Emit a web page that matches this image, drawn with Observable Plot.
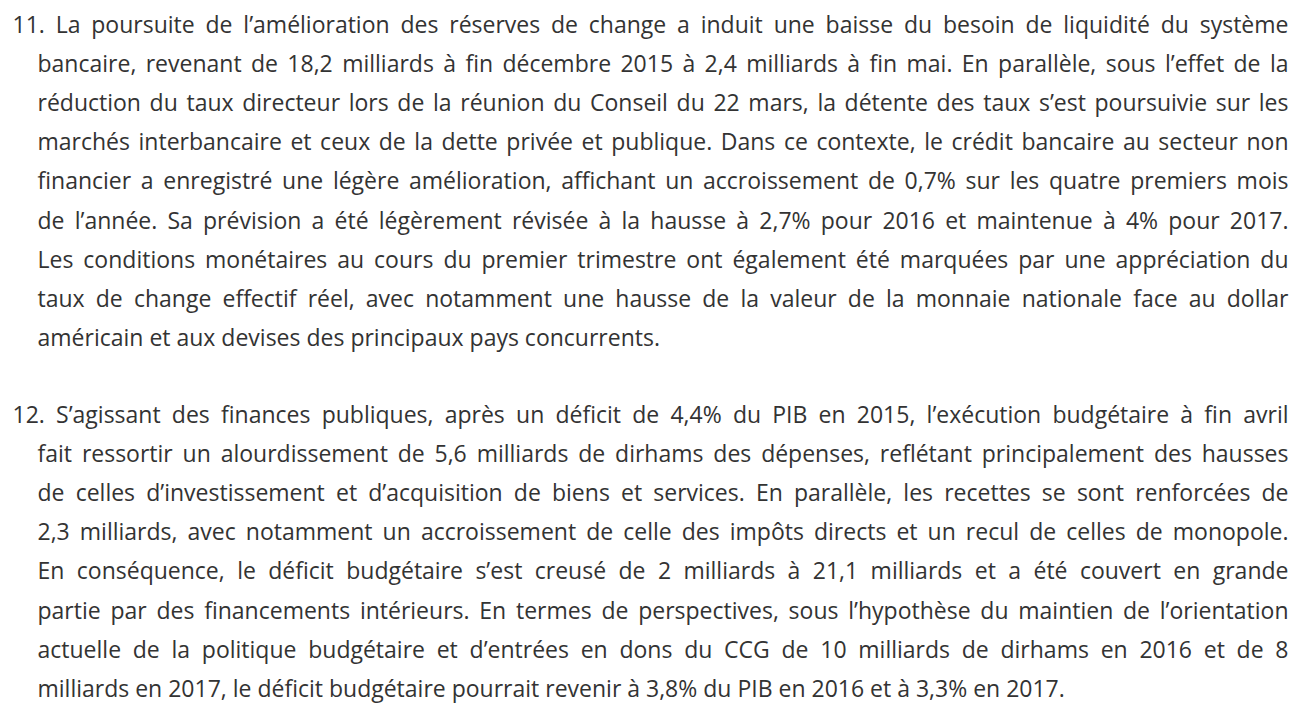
<!DOCTYPE html>
<html>
<head>
<meta charset="utf-8">
<script src="https://cdn.jsdelivr.net/npm/d3@7"></script>
<script src="https://cdn.jsdelivr.net/npm/@observablehq/plot@0.6"></script>
<style>
  html, body { margin: 0; padding: 0; background: #ffffff; }
  #chart svg { display: block; }
</style>
</head>
<body>
<div id="chart"></div>
<script>
// ---- Content (text lines as they are broken in the reference) ----
const paragraph11Lines = [
  "11. La poursuite de l’amélioration des réserves de change a induit une baisse du besoin de liquidité du système",
  "bancaire, revenant de 18,2 milliards à fin décembre 2015 à 2,4 milliards à fin mai. En parallèle, sous l’effet de la",
  "réduction du taux directeur lors de la réunion du Conseil du 22 mars, la détente des taux s’est poursuivie sur les",
  "marchés interbancaire et ceux de la dette privée et publique. Dans ce contexte, le crédit bancaire au secteur non",
  "financier a enregistré une légère amélioration, affichant un accroissement de 0,7% sur les quatre premiers mois",
  "de l’année. Sa prévision a été légèrement révisée à la hausse à 2,7% pour 2016 et maintenue à 4% pour 2017.",
  "Les conditions monétaires au cours du premier trimestre ont également été marquées par une appréciation du",
  "taux de change effectif réel, avec notamment une hausse de la valeur de la monnaie nationale face au dollar",
  "américain et aux devises des principaux pays concurrents."
];
const paragraph12Lines = [
  "12. S’agissant des finances publiques, après un déficit de 4,4% du PIB en 2015, l’exécution budgétaire à fin avril",
  "fait ressortir un alourdissement de 5,6 milliards de dirhams des dépenses, reflétant principalement des hausses",
  "de celles d’investissement et d’acquisition de biens et services. En parallèle, les recettes se sont renforcées de",
  "2,3 milliards, avec notamment un accroissement de celle des impôts directs et un recul de celles de monopole.",
  "En conséquence, le déficit budgétaire s’est creusé de 2 milliards à 21,1 milliards et a été couvert en grande",
  "partie par des financements intérieurs. En termes de perspectives, sous l’hypothèse du maintien de l’orientation",
  "actuelle de la politique budgétaire et d’entrées en dons du CCG de 10 milliards de dirhams en 2016 et de 8",
  "milliards en 2017, le déficit budgétaire pourrait revenir à 3,8% du PIB en 2016 et à 3,3% en 2017."
];
const paragraphs = [paragraph11Lines, paragraph12Lines];

// ---- Layout settings ----
const W = 1296, H = 718;
const fontSize = 23;
const firstBaseline = 32;
const lineStep = 39.2;
const paragraphGapLines = 0.95;   // extra blank space between paragraphs, in lines
const leftFirst = 12, leftIndent = 37, rightEdge = 1288;
const textColor = "#333333";

// ---- Build table ----
const rows = [];
let offset = 0;
paragraphs.forEach((lines, p) => {
  lines.forEach((t, i) => {
    rows.push({text: t, row: offset + i, indent: i === 0 ? 0 : 1, last: i === lines.length - 1});
  });
  offset += lines.length + paragraphGapLines;
});

const mid = firstBaseline - 0.32 * fontSize;
const plot = Plot.plot({
  width: W,
  height: H,
  margin: 0,
  x: {domain: [0, 1], range: [leftFirst, leftIndent], axis: null},
  y: {domain: [0, 1], range: [mid, mid + lineStep], axis: null},
  style: {background: "#ffffff"},
  marks: [
    Plot.text(rows, {
      x: "indent",
      y: "row",
      text: "text",
      textAnchor: "start",
      lineAnchor: "middle",
      fontSize: fontSize,
      fontFamily: "'Open Sans', 'Noto Sans', sans-serif",
      fill: textColor
    })
  ]
});
document.getElementById("chart").appendChild(plot);

const xs = plot.scale("x");
function justify() {
  const texts = plot.querySelectorAll('g[aria-label="text"] text');
  texts.forEach((el, i) => {
    const r = rows[i];
    el.style.wordSpacing = "0px";
    if (!r || r.last) return;
    const len = el.getComputedTextLength();
    const spaces = (r.text.match(/ /g) || []).length;
    const target = rightEdge - xs.apply(r.indent);
    if (spaces > 0) el.style.wordSpacing = ((target - len) / spaces) + "px";
  });
}
justify();
if (document.fonts && document.fonts.ready) document.fonts.ready.then(justify);
</script>
</body>
</html>
